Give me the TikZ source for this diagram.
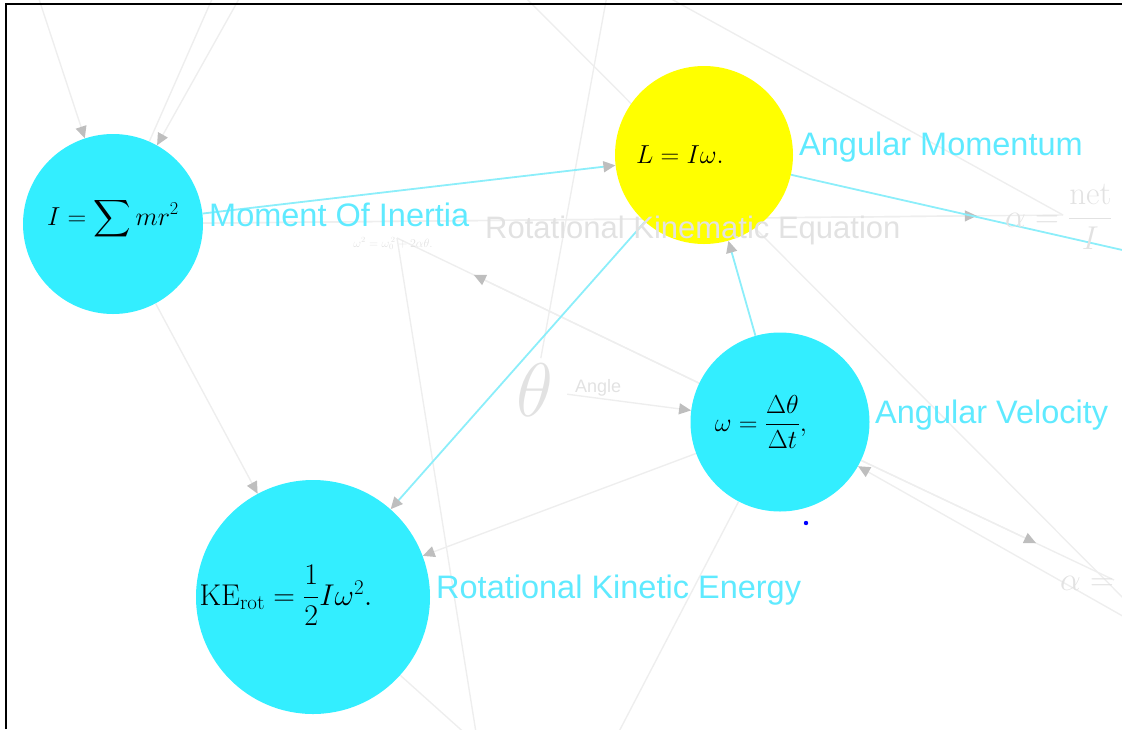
\RequirePackage{fix-cm}
\documentclass[tikz,border=0pt]{standalone}
\usepackage{amsmath,amssymb}
\usepackage{fontspec}
\setsansfont{Liberation Sans}
\usetikzlibrary{arrows.meta,backgrounds}
\definecolor{conceptcyan}{RGB}{51,238,255}
\definecolor{tagcyan}{RGB}{95,234,255}
\definecolor{linkcyan}{RGB}{140,238,250}
\definecolor{hubyellow}{RGB}{255,255,0}
\definecolor{ghostgray}{RGB}{226,226,226}
\definecolor{faintline}{RGB}{238,238,238}
\definecolor{tipgray}{RGB}{190,190,190}

\begin{document}
\begin{tikzpicture}[x=1pt, y=-1pt,
    concept/.style={circle, fill=conceptcyan, inner sep=0pt, minimum size=#1},
    hub/.style={circle, fill=hubyellow, inner sep=0pt, minimum size=#1},
    ghost/.style={circle, inner sep=0pt, minimum size=#1, text=ghostgray},
    formula/.style={inner sep=0pt, anchor=base, font=\fontsize{26}{30}\selectfont},
    ghostmath/.style={inner sep=0pt, anchor=base west, text=ghostgray, font=\fontsize{33}{37}\selectfont},
    tag/.style={inner sep=0pt, anchor=base west, text=tagcyan, font=\sffamily\fontsize{32.5}{38}\selectfont},
    ghosttag/.style={tag, text=ghostgray, font=\sffamily\fontsize{31}{36}\selectfont},
    link/.style={draw=linkcyan, line width=1.8pt, -{Triangle[length=12pt,width=11pt,color=tipgray]}},
    faint/.style={draw=faintline, line width=1.4pt},
    faintlink/.style={faint, -{Triangle[length=12pt,width=11pt,color=tipgray]}}]
  \useasboundingbox (0,0) rectangle (1122,729);
  \clip (0,0) rectangle (1122,729);

  \node[concept=180pt] (inertia) at (113,224) {};
  \node[hub=178pt] (momentum) at (704,155) {};
  \node[concept=179pt] (velocity) at (780,422) {};
  \node[concept=234pt] (energy) at (313,597) {};
  \node[ghost=170pt] (kinematic) at (397,238) {};
  \node[ghost=60pt, font=\fontsize{76}{80}\selectfont] (angle) at (535,390) {$\theta$};
  \node[ghost=172pt] (torque) at (1063,215) {};
  \node[ghost=172pt] (accel) at (1114,580) {};
  \coordinate (topa) at (36,-10);
  \coordinate (topb) at (216,-10);
  \coordinate (topc) at (244,-10);
  \coordinate (topd) at (608,-10);
  \coordinate (tope) at (518,-10);
  \coordinate (topf) at (655,-10);
  \coordinate (eastfar) at (1250,279);
  \coordinate (southeast) at (1165,640);
  \coordinate (southa) at (478,745);
  \coordinate (southb) at (612,745);

  \node[formula] (inertiaf) at (113,225) {$I=\displaystyle\sum mr^2$};
  \node[formula] (momentumf) at (680,163) {$L=I\omega.$};
  \node[formula] (velocityf) at (761,431) {$\omega=\dfrac{\Delta\theta}{\Delta t},$};
  \node[formula, font=\fontsize{30}{34}\selectfont] (energyf) at (286,605) {$\mathrm{KE}_{\mathrm{rot}}=\dfrac{1}{2}I\omega^2.$};
  \node[formula, text=ghostgray, font=\fontsize{12}{14}\selectfont] (kinematicf) at (393,247) {$\omega^2=\omega_0^{\,2}+2\alpha\theta.$};
  \node[ghostmath] (torquef) at (1005,227) {$\alpha=\dfrac{\mathrm{net}}{I}$};
  \node[ghostmath] (accelf) at (1060,590) {$\alpha=$};

  \node[tag] (inertial) at (209,226) {Moment Of Inertia};
  \node[tag] (momentuml) at (799,155) {Angular Momentum};
  \node[tag] (velocityl) at (875,423) {Angular Velocity};
  \node[tag] (energyl) at (436,598) {Rotational Kinetic Energy};
  \node[ghosttag] (kinematicl) at (485,238) {Rotational Kinematic Equation};
  \node[ghosttag, font=\sffamily\fontsize{18}{21}\selectfont] (anglel) at (575,392) {Angle};

  \begin{scope}[on background layer]
    \clip (0,0) rectangle (1122,729);
    \draw[faintlink] (topa) -- (inertia);
    \draw[faint] (topb) -- (inertia);
    \draw[faintlink] (topc) -- (inertia);
    \draw[faintlink] (inertia) -- (energy);
    \draw[faint] (inertia) -- (torque.center);
    \draw[faintlink] (inertia) -- (torque);
    \draw[faint] (velocity) -- (kinematic.center);
    \draw[faintlink] (velocity) -- (kinematic);
    \draw[faint] (velocity) -- (accel.center);
    \draw[faintlink] (velocity) -- (accel);
    \draw[faintlink] (southeast) -- (velocity);
    \draw[faintlink] (angle) -- (velocity);
    \draw[faintlink] (velocity) -- (energy);
    \draw[faint] (topd) -- (angle);
    \draw[faint] (tope) -- (southeast);
    \draw[faint] (topf) -- (torque.center);
    \draw[faint] (kinematic.center) -- (southa);
    \draw[faint] (energy) -- (southa);
    \draw[faint] (velocity) -- (southb);
    \draw[link] (inertia) -- (momentum);
    \draw[link] (momentum) -- (energy);
    \draw[link] (velocity) -- (momentum);
    \draw[link] (momentum) -- (eastfar);
  \end{scope}

  \fill[blue] (806,523) circle (2.2);
  \draw[line width=2pt] (6,729) -- (6,4) -- (1122,4);
\end{tikzpicture}
\end{document}
